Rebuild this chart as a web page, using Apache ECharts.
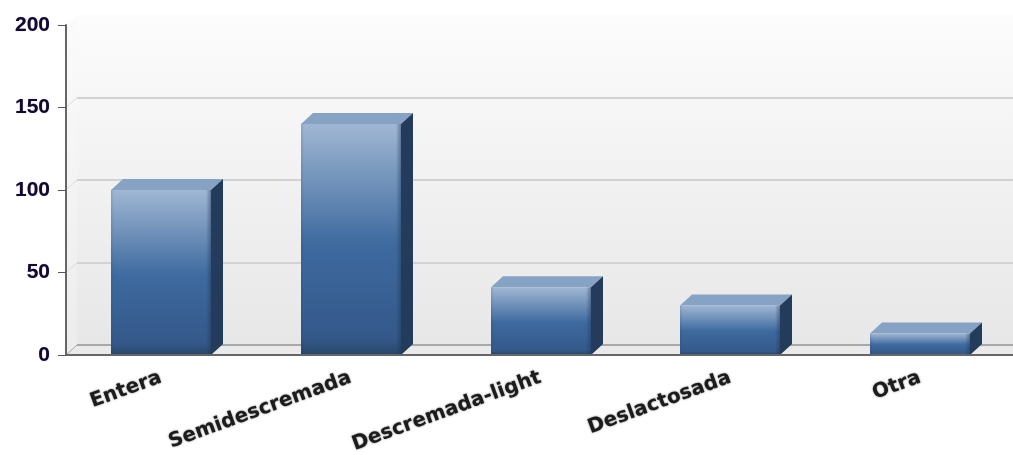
<!DOCTYPE html>
<html>
<head>
<meta charset="utf-8">
<title>Leche</title>
<style>
  html, body { margin: 0; padding: 0; background: #fff; }
  #chart { width: 1013px; height: 455px; }
</style>
<script src="https://cdn.jsdelivr.net/npm/echarts@6/dist/echarts.min.js"></script>
</head>
<body>
<div id="chart"></div>
<script>
const categories = ["Entera", "Semidescremada", "Descremada-light", "Deslactosada", "Otra"];
const values = [100, 140, 41, 30, 13];
const yTicks = [0, 50, 100, 150, 200];

// profundidad del efecto 3D, en pixeles
const WALL_X = 11;
const WALL_Y = 10;
const BAR_DX = 12;
const BAR_DY = 11;
const BAR_W = 100;

const myChart = echarts.init(document.getElementById("chart"));

function vGrad(stops) {
  return new echarts.graphic.LinearGradient(0, 0, 0, 1, stops);
}
function hGrad(stops) {
  return new echarts.graphic.LinearGradient(0, 0, 1, 0, stops);
}

// suelo, pared izquierda y lineas inclinadas
function renderWall(params, api) {
  const v = api.value(1);
  const p = api.coord([0, v]);
  const cs = params.coordSys;
  const x0 = cs.x;
  const y = p[1];
  const children = [];
  if (v === 0) {
    const top = api.coord([0, 200])[1];
    children.push({
      type: "polygon",
      silent: true,
      shape: { points: [[x0, top], [x0 + WALL_X, top - WALL_Y], [x0 + WALL_X, y - WALL_Y], [x0, y]] },
      style: { fill: vGrad([{ offset: 0, color: "#fbfbfb" }, { offset: 1, color: "#ececec" }]) }
    });
    children.push({
      type: "polygon",
      silent: true,
      shape: { points: [[x0, y], [x0 + WALL_X, y - WALL_Y], [x0 + cs.width + 20, y - WALL_Y], [x0 + cs.width + 20, y]] },
      style: { fill: "#e9e9e9" }
    });
    children.push({
      type: "line",
      silent: true,
      shape: { x1: x0 + WALL_X, y1: y - WALL_Y, x2: x0 + cs.width + 20, y2: y - WALL_Y },
      style: { stroke: "#a8a8a8", lineWidth: 2 }
    });
  }
  if (v < 200) {
    children.push({
      type: "line",
      silent: true,
      shape: { x1: x0, y1: y, x2: x0 + WALL_X, y2: y - WALL_Y },
      style: { stroke: v === 0 ? "#a8a8a8" : "#dcdcdc", lineWidth: 1 }
    });
  }
  return { type: "group", children: children };
}

function renderBar(params, api) {
  const base = api.coord([api.value(0), 0]);
  const top = api.coord([api.value(0), api.value(1)]);
  const l = Math.round(base[0] - BAR_W / 2);
  const r = l + BAR_W;
  const yT = top[1];
  const yB = base[1];
  return {
    type: "group",
    children: [
      {
        type: "polygon",
        shape: { points: [[l, yT], [l + BAR_DX, yT - BAR_DY], [r + BAR_DX, yT - BAR_DY], [r, yT]] },
        style: { fill: "#86a3c6" }
      },
      {
        type: "polygon",
        shape: { points: [[r, yT], [r + BAR_DX, yT - BAR_DY], [r + BAR_DX, yB - BAR_DY], [r, yB]] },
        style: { fill: "#233c5b" }
      },
      {
        type: "rect",
        shape: { x: l, y: yT, width: BAR_W, height: yB - yT },
        style: {
          fill: vGrad([
            { offset: 0, color: "#a0b7d3" },
            { offset: 0.52, color: "#3e6a9f" },
            { offset: 0.93, color: "#34588a" },
            { offset: 1, color: "#274668" }
          ])
        }
      },
      {
        type: "rect",
        shape: { x: l, y: yT, width: BAR_W, height: yB - yT },
        style: {
          fill: hGrad([
            { offset: 0, color: "rgba(30,50,80,0.15)" },
            { offset: 0.03, color: "rgba(30,50,80,0)" },
            { offset: 0.95, color: "rgba(30,50,80,0)" },
            { offset: 1, color: "rgba(30,50,80,0.45)" }
          ])
        }
      }
    ]
  };
}

const option = {
  animation: false,
  backgroundColor: "#fff",
  grid: [
    { left: 66, top: 25, width: 949, height: 330, outerBoundsMode: "none" },
    // pared del fondo, desplazada por la profundidad
    {
      left: 66 + WALL_X, top: 25 - WALL_Y, width: 949, height: 330, outerBoundsMode: "none", show: true, borderWidth: 0,
      backgroundColor: vGrad([{ offset: 0, color: "#fcfcfc" }, { offset: 1, color: "#e7e7e7" }])
    }
  ],
  xAxis: [
    {
      type: "category",
      data: categories,
      gridIndex: 0,
      z: 5,
      axisLine: { lineStyle: { color: "#666", width: 2 } },
      axisTick: { alignWithLabel: true, length: 9, lineStyle: { color: "#555", width: 1 } },
      axisLabel: {
        interval: 0,
        rotate: 20,
        margin: 22,
        color: "#1c1c1c",
        fontFamily: "DejaVu Sans",
        fontWeight: "bold",
        fontSize: 20,
        textShadowColor: "rgba(0,0,0,0.55)",
        textShadowBlur: 2
      }
    },
    { type: "category", data: categories, gridIndex: 1, show: false }
  ],
  yAxis: [
    {
      type: "value",
      gridIndex: 0,
      min: 0,
      max: 200,
      interval: 50,
      z: 5,
      axisLine: { show: true, lineStyle: { color: "#666", width: 2 } },
      axisTick: { show: true, length: 8, lineStyle: { color: "#555", width: 1 } },
      splitLine: { show: false },
      axisLabel: {
        customValues: yTicks,
        margin: 16,
        color: "#14082e",
        fontFamily: "Liberation Sans",
        fontWeight: "bold",
        fontSize: 21,
        textShadowColor: "rgba(40,60,120,0.5)",
        textShadowBlur: 1
      }
    },
    {
      type: "value",
      gridIndex: 1,
      min: 0,
      max: 200,
      interval: 50,
      axisLine: { show: false },
      axisTick: { show: false },
      axisLabel: { show: false },
      splitLine: { show: true, showMaxLine: false, showMinLine: false, lineStyle: { color: "#d2d2d2", width: 2 } }
    }
  ],
  series: [
    {
      type: "custom",
      name: "pared",
      xAxisIndex: 0,
      yAxisIndex: 0,
      silent: true,
      z: 1,
      clip: false,
      renderItem: renderWall,
      encode: { x: 0, y: 1 },
      data: yTicks.map(v => [0, v])
    },
    {
      type: "custom",
      name: "Leche",
      xAxisIndex: 0,
      yAxisIndex: 0,
      z: 3,
      clip: false,
      renderItem: renderBar,
      encode: { x: 0, y: 1 },
      data: values.map((v, i) => [i, v])
    }
  ]
};

option && myChart.setOption(option);
</script>
</body>
</html>
